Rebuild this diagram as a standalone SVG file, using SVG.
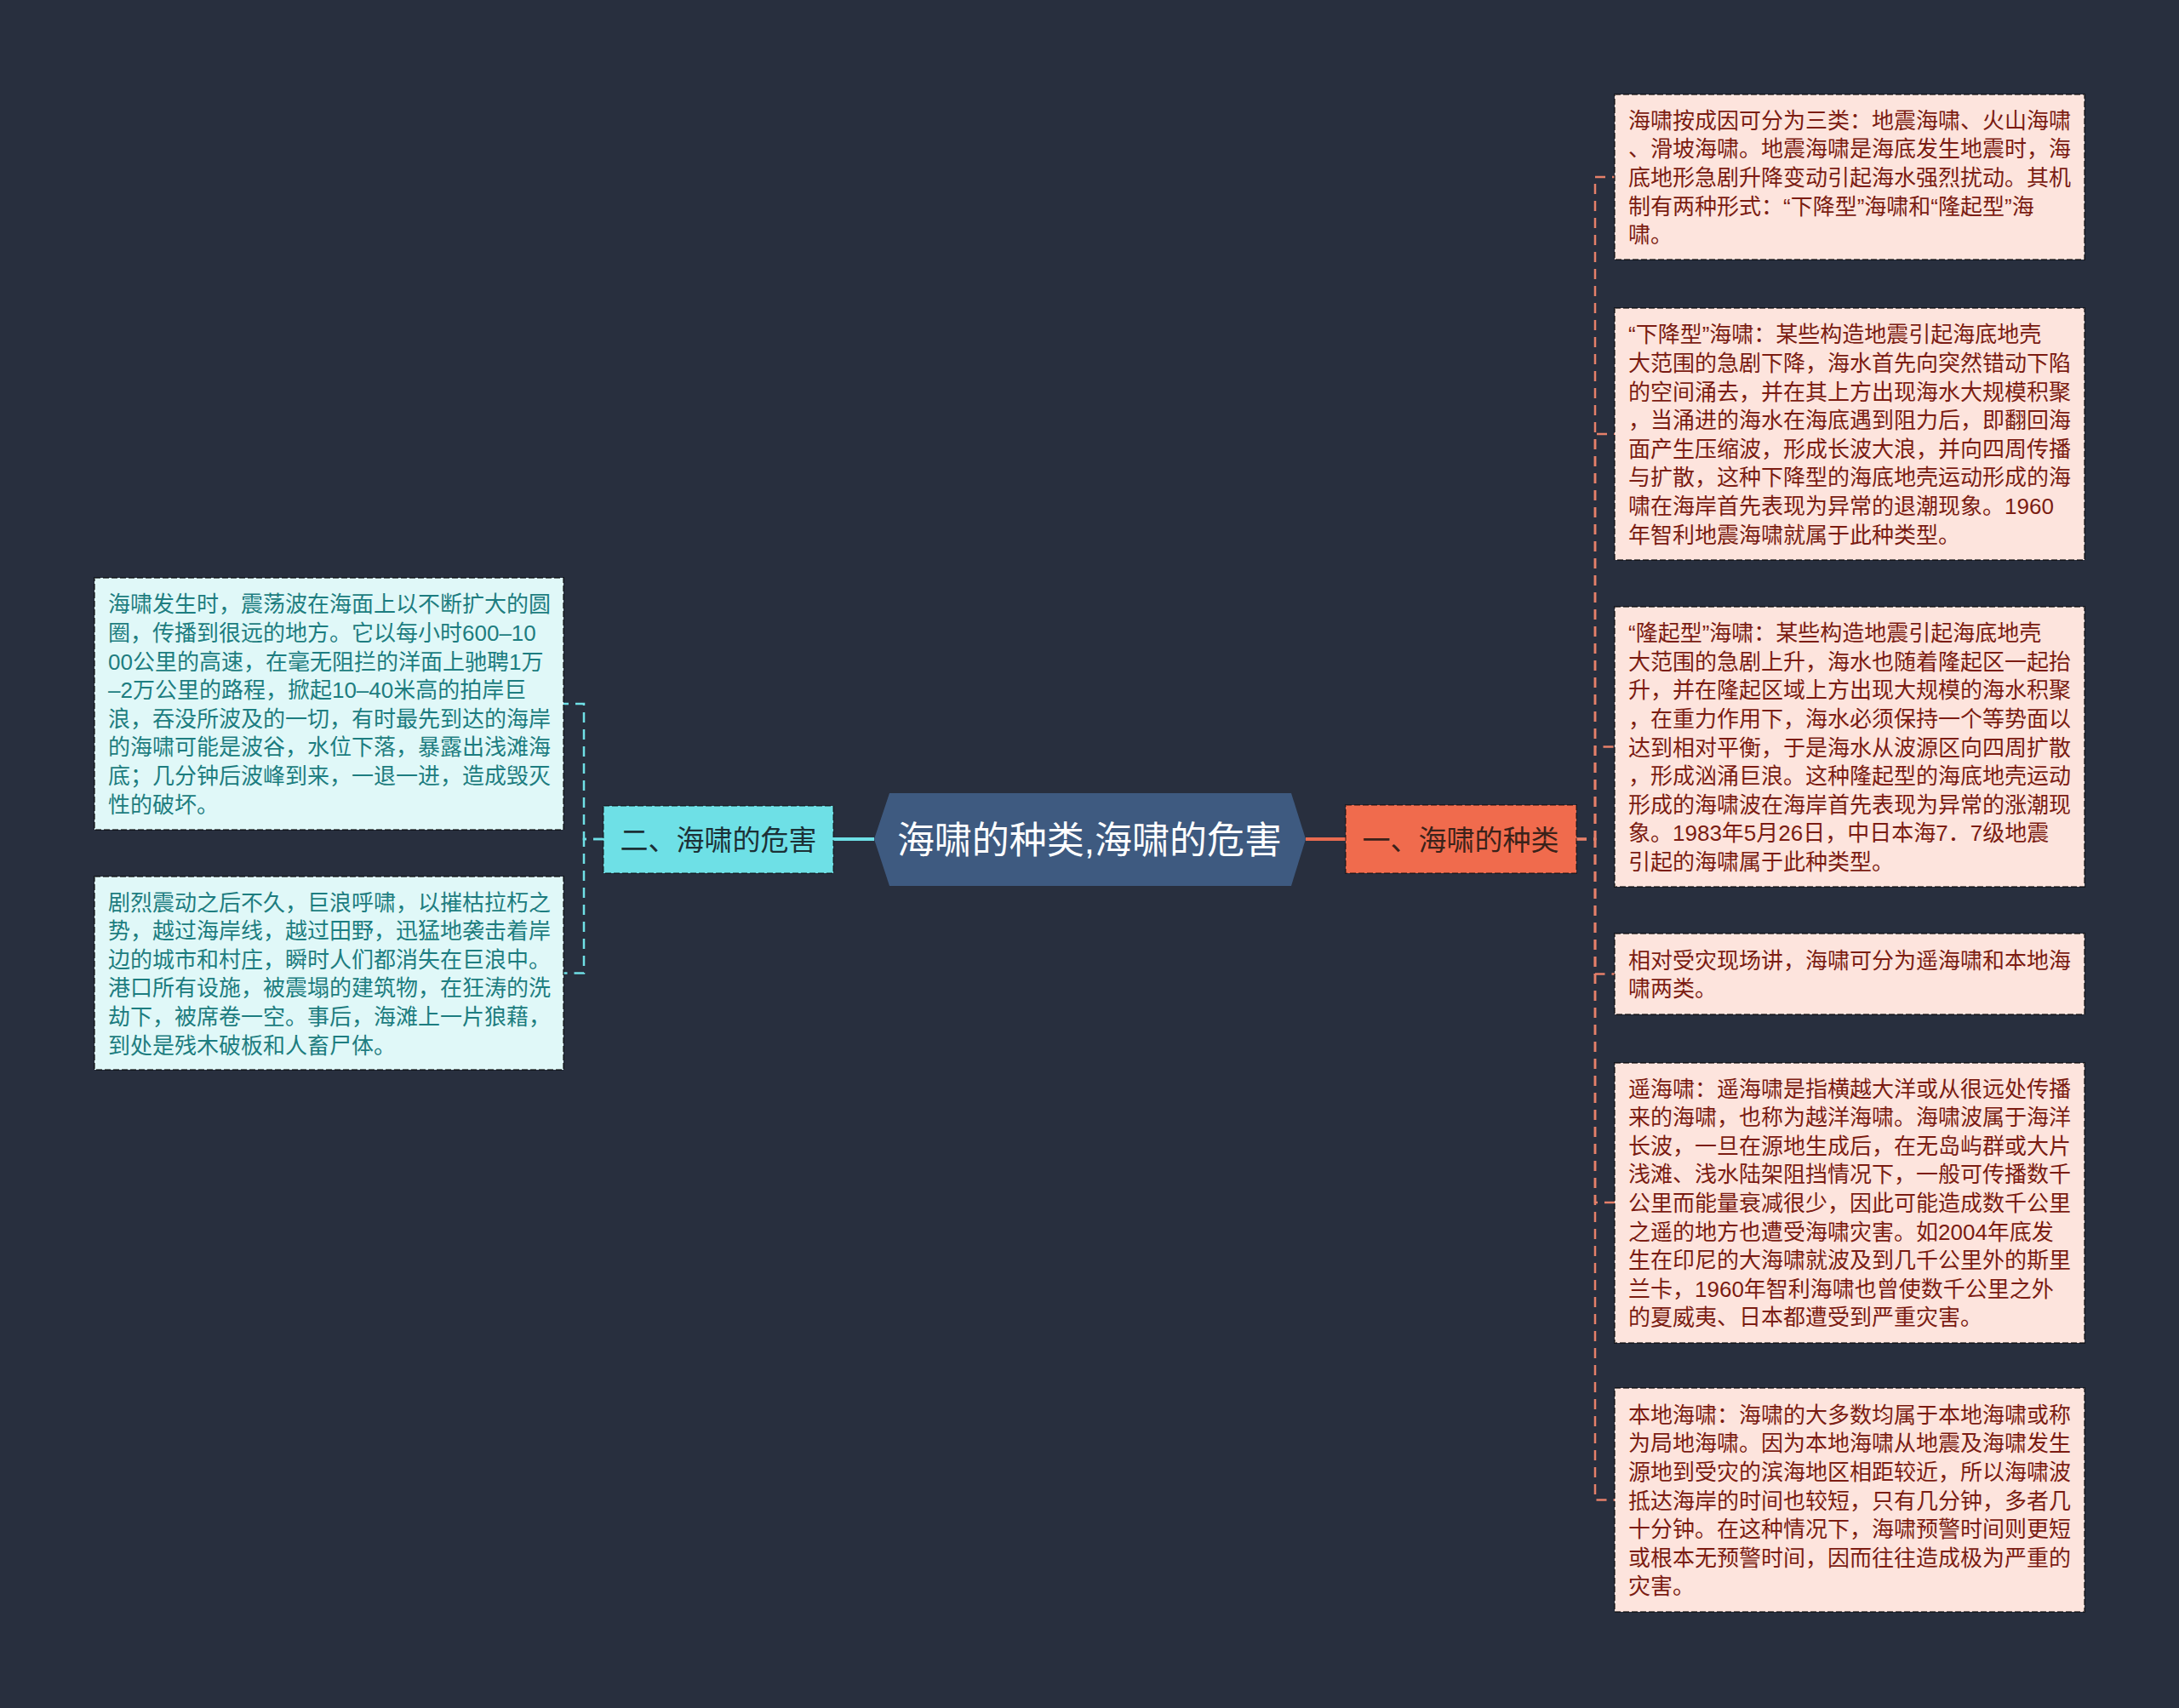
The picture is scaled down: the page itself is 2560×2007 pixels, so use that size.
<svg xmlns="http://www.w3.org/2000/svg" width="2560" height="2007" viewBox="0 0 2560 2007">
<style>
text{font-family:"Liberation Sans","Noto Sans CJK SC",sans-serif;dominant-baseline:central}
.bg{fill:#282f3e}
.leafR rect{fill:#fde4dd;stroke:rgba(0,0,0,0.55);stroke-width:2;stroke-dasharray:7 3}
.leafR text{fill:#7b1c12;font-size:26px}
.leafL rect{fill:#e0f8f8;stroke:rgba(0,0,0,0.55);stroke-width:2;stroke-dasharray:7 3}
.leafL text{fill:#1d7d80;font-size:26px}
.cR{fill:none;stroke:#e6806a;stroke-width:2.5;stroke-dasharray:12 8}
.cL{fill:none;stroke:#6fe0e6;stroke-width:2.5;stroke-dasharray:12 8}
</style>
<rect class="bg" x="0" y="0" width="2560" height="2007"/>

<g id="connectors">
  <line x1="1534" y1="986" x2="1581" y2="986" stroke="#e96b50" stroke-width="4"/>
  <line x1="979" y1="986" x2="1027" y2="986" stroke="#6ee0e6" stroke-width="4"/>
  <path class="cR" d="M1852,986 H1874 V208 H1897"/>
  <path class="cR" d="M1852,986 H1874 V510 H1897"/>
  <path class="cR" d="M1852,986 H1874 V877.5 H1897"/>
  <path class="cR" d="M1852,986 H1874 V1144.5 H1897"/>
  <path class="cR" d="M1852,986 H1874 V1413 H1897"/>
  <path class="cR" d="M1852,986 H1874 V1762.5 H1897"/>
  <path class="cL" d="M709,986 H686 V827 H662"/>
  <path class="cL" d="M709,986 H686 V1143.5 H662"/>
</g>

<g id="root">
  <path d="M1027,986 L1045,932 L1517,932 L1534,986 L1517,1041 L1045,1041 Z" fill="#3e5a80"/>
  <text x="1280" y="987" text-anchor="middle" fill="#ffffff" font-size="44">海啸的种类,海啸的危害</text>
</g>

<g id="branch-types">
  <rect x="1581" y="946" width="271" height="80" fill="#f06b4d" stroke="rgba(0,0,0,0.4)" stroke-width="2" stroke-dasharray="7 3"/>
  <text x="1716" y="987" text-anchor="middle" fill="#3a221a" font-size="33">一、海啸的种类</text>
</g>

<g id="branch-harm">
  <rect x="709" y="947" width="270" height="79" fill="#6ee0e6" stroke="rgba(0,0,0,0.4)" stroke-width="2" stroke-dasharray="7 3"/>
  <text x="844" y="987" text-anchor="middle" fill="#1c3036" font-size="33">二、海啸的危害</text>
</g>

<g id="leaf-r1" class="leafR">
  <rect x="1897" y="111" width="552" height="194"/>
  <text><tspan x="1913" y="141.8">海啸按成因可分为三类：地震海啸、火山海啸</tspan><tspan x="1913" y="175.4">、滑坡海啸。地震海啸是海底发生地震时，海</tspan><tspan x="1913" y="209">底地形急剧升降变动引起海水强烈扰动。其机</tspan><tspan x="1913" y="242.6">制有两种形式：“下降型”海啸和“隆起型”海</tspan><tspan x="1913" y="276.2">啸。</tspan></text>
</g>

<g id="leaf-r2" class="leafR">
  <rect x="1897" y="362" width="552" height="296"/>
  <text><tspan x="1913" y="393.4">“下降型”海啸：某些构造地震引起海底地壳</tspan><tspan x="1913" y="427">大范围的急剧下降，海水首先向突然错动下陷</tspan><tspan x="1913" y="460.6">的空间涌去，并在其上方出现海水大规模积聚</tspan><tspan x="1913" y="494.2">，当涌进的海水在海底遇到阻力后，即翻回海</tspan><tspan x="1913" y="527.8">面产生压缩波，形成长波大浪，并向四周传播</tspan><tspan x="1913" y="561.4">与扩散，这种下降型的海底地壳运动形成的海</tspan><tspan x="1913" y="595">啸在海岸首先表现为异常的退潮现象。1960</tspan><tspan x="1913" y="628.6">年智利地震海啸就属于此种类型。</tspan></text>
</g>

<g id="leaf-r3" class="leafR">
  <rect x="1897" y="713" width="552" height="329"/>
  <text><tspan x="1913" y="744.1">“隆起型”海啸：某些构造地震引起海底地壳</tspan><tspan x="1913" y="777.7">大范围的急剧上升，海水也随着隆起区一起抬</tspan><tspan x="1913" y="811.3">升，并在隆起区域上方出现大规模的海水积聚</tspan><tspan x="1913" y="844.9">，在重力作用下，海水必须保持一个等势面以</tspan><tspan x="1913" y="878.5">达到相对平衡，于是海水从波源区向四周扩散</tspan><tspan x="1913" y="912.1">，形成汹涌巨浪。这种隆起型的海底地壳运动</tspan><tspan x="1913" y="945.7">形成的海啸波在海岸首先表现为异常的涨潮现</tspan><tspan x="1913" y="979.3">象。1983年5月26日，中日本海7．7级地震</tspan><tspan x="1913" y="1012.9">引起的海啸属于此种类型。</tspan></text>
</g>

<g id="leaf-r4" class="leafR">
  <rect x="1897" y="1097" width="552" height="95"/>
  <text><tspan x="1913" y="1128.7">相对受灾现场讲，海啸可分为遥海啸和本地海</tspan><tspan x="1913" y="1162.3">啸两类。</tspan></text>
</g>

<g id="leaf-r5" class="leafR">
  <rect x="1897" y="1249" width="552" height="329"/>
  <text><tspan x="1913" y="1279.6">遥海啸：遥海啸是指横越大洋或从很远处传播</tspan><tspan x="1913" y="1313.2">来的海啸，也称为越洋海啸。海啸波属于海洋</tspan><tspan x="1913" y="1346.8">长波，一旦在源地生成后，在无岛屿群或大片</tspan><tspan x="1913" y="1380.4">浅滩、浅水陆架阻挡情况下，一般可传播数千</tspan><tspan x="1913" y="1414">公里而能量衰减很少，因此可能造成数千公里</tspan><tspan x="1913" y="1447.6">之遥的地方也遭受海啸灾害。如2004年底发</tspan><tspan x="1913" y="1481.2">生在印尼的大海啸就波及到几千公里外的斯里</tspan><tspan x="1913" y="1514.8">兰卡，1960年智利海啸也曾使数千公里之外</tspan><tspan x="1913" y="1548.4">的夏威夷、日本都遭受到严重灾害。</tspan></text>
</g>

<g id="leaf-r6" class="leafR">
  <rect x="1897" y="1631" width="552" height="263"/>
  <text><tspan x="1913" y="1662.7">本地海啸：海啸的大多数均属于本地海啸或称</tspan><tspan x="1913" y="1696.3">为局地海啸。因为本地海啸从地震及海啸发生</tspan><tspan x="1913" y="1729.9">源地到受灾的滨海地区相距较近，所以海啸波</tspan><tspan x="1913" y="1763.5">抵达海岸的时间也较短，只有几分钟，多者几</tspan><tspan x="1913" y="1797.1">十分钟。在这种情况下，海啸预警时间则更短</tspan><tspan x="1913" y="1830.7">或根本无预警时间，因而往往造成极为严重的</tspan><tspan x="1913" y="1864.3">灾害。</tspan></text>
</g>

<g id="leaf-l1" class="leafL">
  <rect x="111" y="679" width="551" height="296"/>
  <text><tspan x="127" y="710.4">海啸发生时，震荡波在海面上以不断扩大的圆</tspan><tspan x="127" y="744">圈，传播到很远的地方。它以每小时600–10</tspan><tspan x="127" y="777.6">00公里的高速，在毫无阻拦的洋面上驰聘1万</tspan><tspan x="127" y="811.2">–2万公里的路程，掀起10–40米高的拍岸巨</tspan><tspan x="127" y="844.8">浪，吞没所波及的一切，有时最先到达的海岸</tspan><tspan x="127" y="878.4">的海啸可能是波谷，水位下落，暴露出浅滩海</tspan><tspan x="127" y="912">底；几分钟后波峰到来，一退一进，造成毁灭</tspan><tspan x="127" y="945.6">性的破坏。</tspan></text>
</g>

<g id="leaf-l2" class="leafL">
  <rect x="111" y="1030" width="551" height="227"/>
  <text><tspan x="127" y="1060.5">剧烈震动之后不久，巨浪呼啸，以摧枯拉朽之</tspan><tspan x="127" y="1094.1">势，越过海岸线，越过田野，迅猛地袭击着岸</tspan><tspan x="127" y="1127.7">边的城市和村庄，瞬时人们都消失在巨浪中。</tspan><tspan x="127" y="1161.3">港口所有设施，被震塌的建筑物，在狂涛的洗</tspan><tspan x="127" y="1194.9">劫下，被席卷一空。事后，海滩上一片狼藉，</tspan><tspan x="127" y="1228.5">到处是残木破板和人畜尸体。</tspan></text>
</g>
</svg>
